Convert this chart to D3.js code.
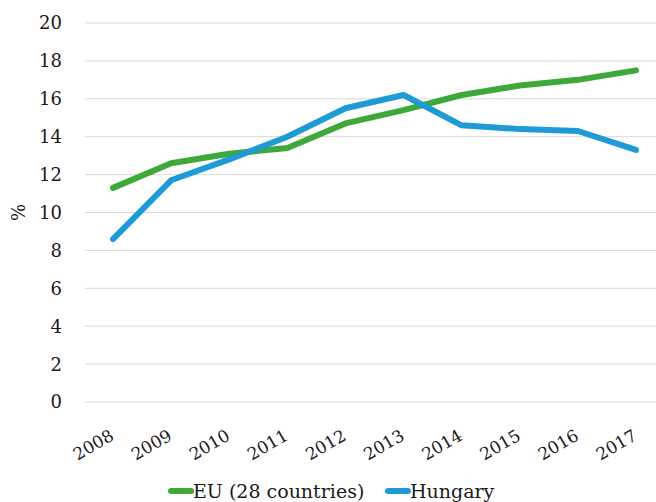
<!DOCTYPE html>
<html>
<head>
<meta charset="utf-8">
<script src="https://cdn.jsdelivr.net/npm/d3@7"></script>
<style>
  body { margin: 0; background: #fff; }
</style>
</head>
<body>
<div id="chart"></div>
<script>
const years = ["2008", "2009", "2010", "2011", "2012", "2013", "2014", "2015", "2016", "2017"];
const euValues = [11.3, 12.6, 13.1, 13.4, 14.7, 15.4, 16.2, 16.7, 17.0, 17.5];
const huValues = [8.6, 11.7, 12.8, 14.0, 15.5, 16.2, 14.6, 14.4, 14.3, 13.3];
const yTicks = [0, 2, 4, 6, 8, 10, 12, 14, 16, 18, 20];
const seriesNames = ["EU (28 countries)", "Hungary"];

const width = 656, height = 502;
const colors = ["#3fa83a", "#1e9ad6"];
const font = "DejaVu Serif";

const svg = d3.select("#chart").append("svg")
    .attr("width", width)
    .attr("height", height)
    .style("font-family", font);

const x = d3.scalePoint()
    .domain(years)
    .range([113, 636]);

const y = d3.scaleLinear()
    .domain([0, 20])
    .range([402, 23]);

// gridlines
svg.append("g")
    .selectAll("line")
    .data(yTicks)
    .enter().append("line")
    .attr("x1", 85)
    .attr("x2", width)
    .attr("y1", d => y(d))
    .attr("y2", d => y(d))
    .attr("stroke", "#d9d9d9")
    .attr("stroke-width", 1);

// y labels
svg.append("g")
    .selectAll("text")
    .data(yTicks)
    .enter().append("text")
    .attr("x", 62)
    .attr("y", d => y(d))
    .attr("dy", "0.36em")
    .attr("text-anchor", "end")
    .attr("fill", "#1a1a1a")
    .style("font-size", "18px")
    .text(d => d);

// y title
svg.append("text")
    .attr("transform", `translate(25, ${y(10)}) rotate(-90)`)
    .attr("text-anchor", "middle")
    .attr("fill", "#1a1a1a")
    .style("font-size", "18px")
    .text("%");

// x labels
svg.append("g")
    .selectAll("text")
    .data(years)
    .enter().append("text")
    .attr("transform", d => `translate(${x(d) + 2}, 439) rotate(-30)`)
    .attr("text-anchor", "end")
    .attr("fill", "#1a1a1a")
    .style("font-size", "17px")
    .text(d => d);

const line = d3.line()
    .x((d, i) => x(years[i]))
    .y(d => y(d));

[euValues, huValues].forEach((vals, k) => {
    svg.append("path")
        .datum(vals)
        .attr("d", line)
        .attr("fill", "none")
        .attr("stroke", colors[k])
        .attr("stroke-width", 6)
        .attr("stroke-linecap", "round")
        .attr("stroke-linejoin", "round");
});

// legend
const legendX = [171, 388];
const legend = svg.append("g");
seriesNames.forEach((name, k) => {
    legend.append("line")
        .attr("x1", legendX[k])
        .attr("x2", legendX[k] + 20)
        .attr("y1", 491)
        .attr("y2", 491)
        .attr("stroke", colors[k])
        .attr("stroke-width", 6)
        .attr("stroke-linecap", "round");
    legend.append("text")
        .attr("x", legendX[k] + 22)
        .attr("y", 491)
        .attr("dy", "0.36em")
        .attr("fill", "#1a1a1a")
        .style("font-size", "19px")
        .text(name);
});
</script>
</body>
</html>
